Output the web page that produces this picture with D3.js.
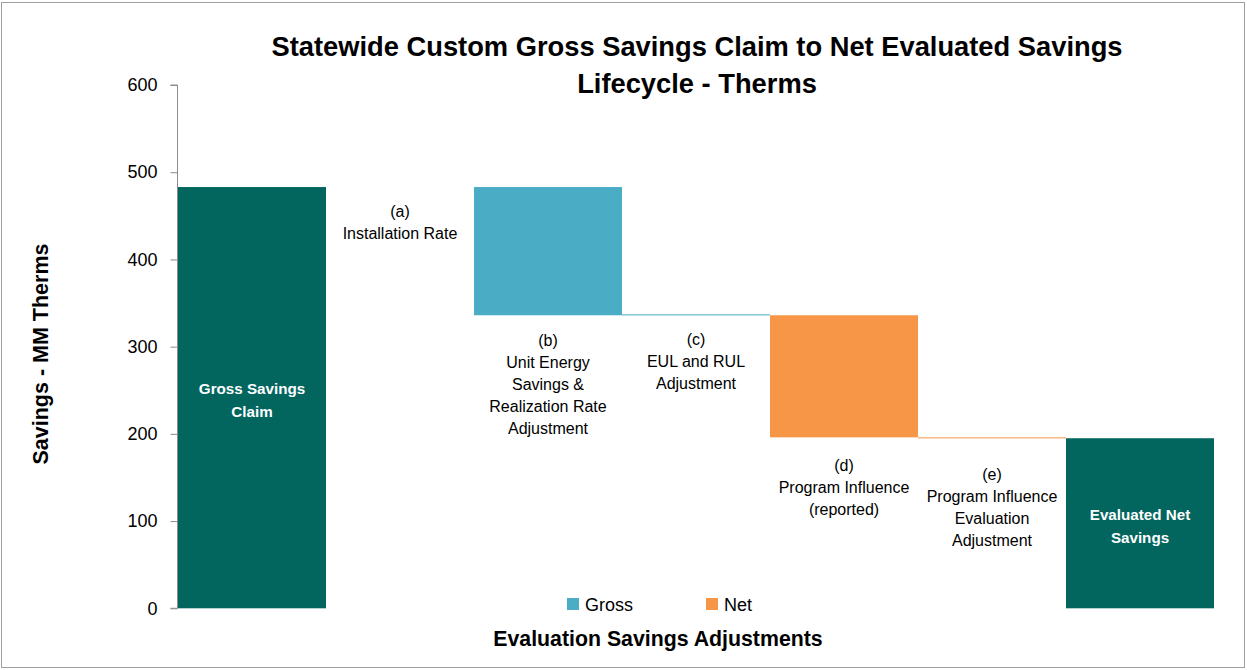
<!DOCTYPE html>
<html><head><meta charset="utf-8">
<script src="https://cdn.jsdelivr.net/npm/d3@7"></script>
<style>body{margin:0;background:#fff;} svg{display:block;}</style>
</head><body>
<svg id="c" width="1247" height="670"></svg>
<script>
const categories = ["Gross Savings Claim","(a)","(b)","(c)","(d)","(e)","Evaluated Net Savings"];
const barBase  = [0, 483, 336, 336, 196, 195, 0];
const barTop   = [483, 483, 483, 337, 336, 196, 195];
const barKind  = ["total","none","gross","gross","net","net","total"];
const labelLines = [
  ["Gross Savings","Claim"],
  ["(a)","Installation Rate"],
  ["(b)","Unit Energy","Savings &","Realization Rate","Adjustment"],
  ["(c)","EUL and RUL","Adjustment"],
  ["(d)","Program Influence","(reported)"],
  ["(e)","Program Influence","Evaluation","Adjustment"],
  ["Evaluated Net","Savings"]
];
const yTicks = [0,100,200,300,400,500,600];
const legendItems = ["Gross","Net"];

const colors = {total:"#02665F", gross:"#4BACC6", net:"#F79646", none:"none"};
const font = "Liberation Sans, Arial, sans-serif";
const svg = d3.select("#c");

svg.append("rect").attr("x",1.5).attr("y",2.5).attr("width",1243).attr("height",665)
  .attr("fill","#fff").attr("stroke","#a0a0a0").attr("stroke-width",1);

const x = d3.scaleBand().domain(categories).range([178,1214]).padding(0);
const y = d3.scaleLinear().domain([0,600]).range([608.3,85]);

// Axis
const yAxis = svg.append("g").attr("transform","translate(177.5,0)")
  .call(d3.axisLeft(y).tickValues(yTicks).tickSize(7).tickPadding(13).tickFormat(d3.format("d")));
yAxis.select(".domain").attr("stroke","#8c8c8c").attr("d","M-7,"+y(600)+"H0V"+y(0)+"H-7");
yAxis.selectAll(".tick line").attr("stroke","#8c8c8c");
yAxis.selectAll(".tick text").attr("font-family",font).attr("font-size",18).attr("fill","#000");

// Bars
svg.append("g").selectAll("rect").data(categories).join("rect")
  .attr("x",d=>x(d)).attr("width",x.bandwidth())
  .attr("y",(d,i)=>y(barTop[i]))
  .attr("height",(d,i)=>Math.max(1,y(barBase[i])-y(barTop[i])))
  .attr("fill",(d,i)=>colors[barKind[i]])
  .attr("opacity",(d,i)=>barKind[i]==="none"?0:1);

// Labels
const lh = 22;
const offs = [0,24,25,24,28,36,0];
categories.forEach((c,i)=>{
  const cx = x(c)+x.bandwidth()/2;
  const lines = labelLines[i];
  let y0, fill="#000", weight="normal", fs=16;
  if (barKind[i]==="total") {
    const mid = (y(barBase[i])+y(barTop[i]))/2;
    y0 = mid - (lines.length-1)*lh/2 + 2;
    fill="#fff"; weight="bold"; fs=15.2;
  } else if (i===1) {
    y0 = y(barTop[i]) + offs[i];
  } else {
    y0 = y(barBase[i]) + offs[i];
  }
  const t = svg.append("text").attr("text-anchor","middle").attr("font-family",font)
    .attr("font-size",fs).attr("fill",fill).attr("font-weight",weight);
  lines.forEach((l,k)=>{
    t.append("tspan").attr("x",cx).attr("y",y0+k*(barKind[i]==="total"?23.5:lh)).attr("dy","0.35em").text(l);
  });
});

// Title
const title = svg.append("text").attr("text-anchor","middle").attr("font-family",font)
  .attr("font-weight","bold").attr("font-size",27.3).attr("fill","#000");
title.append("tspan").attr("x",697).attr("y",46).attr("dy","0.35em").text("Statewide Custom Gross Savings Claim to Net Evaluated Savings");
title.append("tspan").attr("x",697).attr("y",83).attr("dy","0.35em").text("Lifecycle - Therms");

// Axis titles
svg.append("text").attr("transform","translate(40,354) rotate(-90)").attr("text-anchor","middle")
  .attr("dy","0.35em").attr("font-family",font).attr("font-weight","bold").attr("font-size",21.5)
  .text("Savings - MM Therms");
svg.append("text").attr("x",658).attr("y",639).attr("dy","0.35em").attr("text-anchor","middle")
  .attr("font-family",font).attr("font-weight","bold").attr("font-size",21.3)
  .text("Evaluation Savings Adjustments");

// Legend
const legX = [567,706];
legendItems.forEach((l,i)=>{
  svg.append("rect").attr("x",legX[i]).attr("y",598).attr("width",12).attr("height",12)
    .attr("fill",i===0?colors.gross:colors.net);
  svg.append("text").attr("x",legX[i]+18).attr("y",605).attr("dy","0.35em")
    .attr("font-family",font).attr("font-size",18).text(l);
});
</script>
</body></html>
